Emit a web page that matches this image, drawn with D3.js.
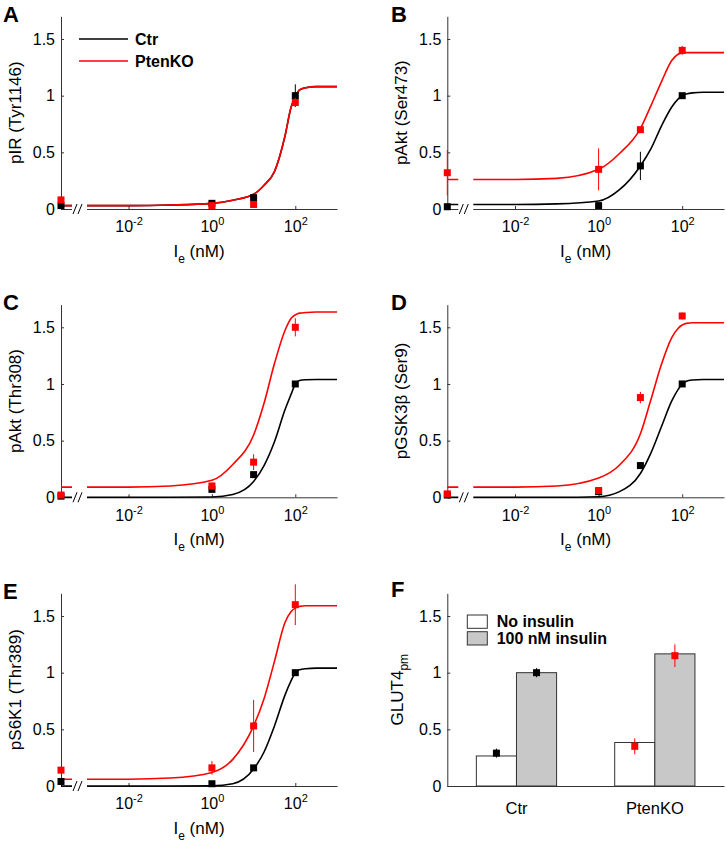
<!DOCTYPE html>
<html>
<head>
<meta charset="utf-8">
<script src="https://cdn.jsdelivr.net/npm/d3@7"></script>
<style>
  body { margin: 0; background: #fff; }
  svg { display: block; font-family: "Liberation Sans", Arial, Helvetica, sans-serif; }
</style>
</head>
<body>
<svg id="fig" width="727" height="843"></svg>
<script>
// Doses in nM (0 is drawn at the left end of the log axis)
const doses = [0, 1, 10, 100];
const fitLogX = [-3.62, -2, -1, 0, 0.5, 1, 1.25, 1.5, 1.75, 1.9, 2, 2.1, 2.25, 2.5, 3];

// A: pIR (Tyr1146)
const aCtr = [0.03, 0.05, 0.10, 1.00];
const aCtrErr = [0.01, 0.01, 0.02, 0.10];
const aKo = [0.08, 0.03, 0.04, 0.94];
const aKoErr = [0.03, 0.01, 0.02, 0.04];
const aCtrFit = [0.03, 0.03, 0.035, 0.05, 0.078, 0.13, 0.21, 0.33, 0.64, 0.90, 0.99, 1.05, 1.07, 1.08, 1.08];
const aKoFit = [0.03, 0.03, 0.035, 0.05, 0.078, 0.13, 0.21, 0.33, 0.64, 0.90, 0.99, 1.05, 1.07, 1.08, 1.08];

// B: pAkt (Ser473)
const bCtr = [0.02, 0.03, 0.38, 1.00];
const bCtrErr = [0.01, 0.01, 0.125, 0.01];
const bKo = [0.32, 0.35, 0.70, 1.40];
const bKoErr = [0.20, 0.185, 0.02, 0.04];
const bCtrFit = [0.04, 0.04, 0.045, 0.07, 0.17, 0.38, 0.53, 0.73, 0.90, 0.97, 1.0, 1.015, 1.025, 1.03, 1.03];
const bKoFit = [0.26, 0.26, 0.27, 0.35, 0.49, 0.71, 0.91, 1.12, 1.31, 1.365, 1.378, 1.38, 1.38, 1.38, 1.38];

// C: pAkt (Thr308)
const cCtr = [0.01, 0.07, 0.20, 1.00];
const cCtrErr = [0.01, 0.01, 0.02, 0.01];
const cKo = [0.02, 0.10, 0.31, 1.50];
const cKoErr = [0.01, 0.03, 0.07, 0.08];
const cCtrFit = [0, 0, 0, 0.003, 0.025, 0.14, 0.28, 0.49, 0.77, 0.91, 1.0, 1.03, 1.037, 1.04, 1.04];
const cKoFit = [0.09, 0.09, 0.10, 0.15, 0.29, 0.55, 0.83, 1.18, 1.47, 1.58, 1.61, 1.625, 1.63, 1.635, 1.635];

// D: pGSK3b (Ser9)
const dCtr = [0.02, 0.05, 0.28, 1.00];
const dCtrErr = [0.01, 0.01, 0.03, 0.01];
const dKo = [0.03, 0.06, 0.88, 1.60];
const dKoErr = [0.01, 0.01, 0.05, 0.03];
const dCtrFit = [0, 0, 0, 0.005, 0.05, 0.21, 0.39, 0.62, 0.85, 0.95, 1.0, 1.025, 1.035, 1.04, 1.04];
const dKoFit = [0.09, 0.09, 0.10, 0.17, 0.285, 0.56, 0.86, 1.17, 1.41, 1.49, 1.52, 1.535, 1.54, 1.54, 1.54];

// E: pS6K1 (Thr389)
const eCtr = [0.04, 0.02, 0.16, 1.00];
const eCtrErr = [0.01, 0.01, 0.02, 0.01];
const eKo = [0.14, 0.16, 0.53, 1.60];
const eKoErr = [0.02, 0.06, 0.23, 0.18];
const eCtrFit = [0, 0, 0, 0.002, 0.02, 0.15, 0.30, 0.53, 0.80, 0.93, 1.0, 1.025, 1.035, 1.04, 1.04];
const eKoFit = [0.06, 0.06, 0.07, 0.12, 0.235, 0.53, 0.77, 1.10, 1.44, 1.54, 1.57, 1.585, 1.59, 1.59, 1.59];

// F: GLUT4 at plasma membrane
const glutGroups = ["Ctr", "PtenKO"];
const glutBarNoIns = [0.265, 0.384];
const glutBarIns = [1.0, 1.166];
const glutDataNoIns = [0.29, 0.35];
const glutErrNoIns = [0.04, 0.07];
const glutDataIns = [1.0, 1.15];
const glutErrIns = [0.04, 0.10];

const yTicks = [0, 0.5, 1, 1.5];
const xTicks = [1e-2, 1, 1e2];

const RED = "#ff0000";
const AXIS = "#333";
const svg = d3.select("#fig");

// panel frames
const cols = [[61, 337], [447.3, 724]];
const rows = [209, 497.3, 786];
const unit = 113.33;

const panels = [
  { letter: "A", label: "pIR (Tyr1146)", ctr: aCtr, ctrErr: aCtrErr, ko: aKo, koErr: aKoErr, ctrFit: aCtrFit, koFit: aKoFit, c: 0, r: 0, legend: true },
  { letter: "B", label: "pAkt (Ser473)", ctr: bCtr, ctrErr: bCtrErr, ko: bKo, koErr: bKoErr, ctrFit: bCtrFit, koFit: bKoFit, c: 1, r: 0 },
  { letter: "C", label: "pAkt (Thr308)", ctr: cCtr, ctrErr: cCtrErr, ko: cKo, koErr: cKoErr, ctrFit: cCtrFit, koFit: cKoFit, c: 0, r: 1 },
  { letter: "D", label: "pGSK3\u03B2 (Ser9)", ctr: dCtr, ctrErr: dCtrErr, ko: dKo, koErr: dKoErr, ctrFit: dCtrFit, koFit: dKoFit, c: 1, r: 1 },
  { letter: "E", label: "pS6K1 (Thr389)", ctr: eCtr, ctrErr: eCtrErr, ko: eKo, koErr: eKoErr, ctrFit: eCtrFit, koFit: eKoFit, c: 0, r: 2 }
];

const yScaleFor = (y0) => d3.scaleLinear().domain([0, 1.7]).range([y0, y0 - 1.7 * unit]);

function drawYAxis(g, y, x0) {
  const ax = g.append("g")
    .attr("transform", `translate(${x0},0)`)
    .call(d3.axisLeft(y).tickValues(yTicks).tickSizeInner(-3).tickSizeOuter(0).tickPadding(6).tickFormat(d3.format("")));
  ax.select(".domain").attr("stroke", AXIS);
  ax.selectAll(".tick line").attr("stroke", AXIS);
  ax.selectAll(".tick text").attr("font-size", 16).attr("fill", "#000").attr("font-family", null);
}

function drawLetter(x, y, t) {
  svg.append("text").attr("x", x).attr("y", y)
    .attr("font-size", 22).attr("font-weight", "bold").text(t);
}

function drawYLabel(cx, cy, parts) {
  const t = svg.append("text")
    .attr("transform", `translate(${cx},${cy}) rotate(-90)`)
    .attr("text-anchor", "middle").attr("dy", "0.35em").attr("font-size", 17);
  t.append("tspan").text(parts[0]);
  if (parts[1]) t.append("tspan").attr("dy", 5).attr("font-size", 12).text(parts[1]);
}

function dosePanel(p) {
  const [x0, x1] = cols[p.c];
  const y0 = rows[p.r];
  const g = svg.append("g");
  const x = d3.scaleLog().domain([Math.pow(10, -3.62), 1000]).range([x0, x1]);
  const y = yScaleFor(y0);
  const xPos = d => x(d === 0 ? x.domain()[0] : d);

  // x axis with 10^n labels
  const xa = g.append("g")
    .attr("transform", `translate(0,${y0})`)
    .call(d3.axisBottom(x).tickValues(xTicks).tickSizeInner(-3).tickSizeOuter(0).tickPadding(12));
  xa.select(".domain").attr("stroke", AXIS);
  xa.selectAll(".tick line").attr("stroke", AXIS);
  xa.selectAll(".tick text")
    .attr("font-size", 16).attr("fill", "#000").attr("font-family", null)
    .text(null)
    .each(function (d) {
      const t = d3.select(this);
      t.append("tspan").text("10");
      t.append("tspan").attr("dy", -7).attr("font-size", 11).text(String(Math.round(Math.log10(d))));
    });
  drawYAxis(g, y, x0);

  // fitted curves
  const line = d3.line()
    .x((v, i) => x(Math.pow(10, fitLogX[i])))
    .y(v => y(v))
    .curve(d3.curveMonotoneX);
  g.append("path").attr("d", line(p.ctrFit)).attr("fill", "none").attr("stroke", "#000").attr("stroke-width", 1.6);
  g.append("path").attr("d", line(p.koFit)).attr("fill", "none").attr("stroke", RED).attr("stroke-width", 1.6);

  // axis break
  g.append("rect").attr("x", x0 + 11).attr("width", 15)
    .attr("y", y0 - 1.7 * unit).attr("height", 1.7 * unit + 2).attr("fill", "#fff");
  [12, 17].forEach(o => {
    g.append("line")
      .attr("x1", x0 + o).attr("y1", y0 + 5)
      .attr("x2", x0 + o + 4).attr("y2", y0 - 5)
      .attr("stroke", "#000").attr("stroke-width", 1);
  });

  // data with error bars
  [[p.ctr, p.ctrErr, "#000"], [p.ko, p.koErr, RED]].forEach(([vals, errs, col]) => {
    g.selectAll(null).data(doses).enter().append("line")
      .attr("x1", d => xPos(d)).attr("x2", d => xPos(d))
      .attr("y1", (d, i) => y(vals[i] - errs[i])).attr("y2", (d, i) => y(vals[i] + errs[i]))
      .attr("stroke", col).attr("stroke-width", 1);
    g.selectAll(null).data(doses).enter().append("rect")
      .attr("x", d => xPos(d) - 3.5).attr("y", (d, i) => y(vals[i]) - 3.5)
      .attr("width", 7).attr("height", 7).attr("fill", col);
  });

  // axis labels
  const xl = svg.append("text")
    .attr("x", (x0 + x1) / 2).attr("y", y0 + 47.5)
    .attr("text-anchor", "middle").attr("font-size", 17);
  xl.append("tspan").text("I");
  xl.append("tspan").attr("dy", 6).attr("font-size", 12).text("e");
  xl.append("tspan").attr("dy", -6).text(" (nM)");
  drawYLabel(x0 - 46, y0 - 0.85 * unit, [p.label]);

  drawLetter(p.c === 0 ? 3 : 391, y0 - 187.5, p.letter);

  if (p.legend) {
    const items = [["Ctr", "#000"], ["PtenKO", RED]];
    items.forEach(([name, col], i) => {
      const ly = 39 + i * 22;
      svg.append("line").attr("x1", 79).attr("x2", 128).attr("y1", ly).attr("y2", ly)
        .attr("stroke", col).attr("stroke-width", 1.6);
      svg.append("text").attr("x", 135).attr("y", ly + 6)
        .attr("font-size", 16).attr("font-weight", "bold").text(name);
    });
  }
}

panels.forEach(dosePanel);

// Panel F: bar chart
(function () {
  const [x0, x1] = cols[1];
  const y0 = rows[2];
  const g = svg.append("g");
  const y = yScaleFor(y0);
  const xb = d3.scaleBand().domain(glutGroups).range([x0, x1]).paddingInner(0.42).paddingOuter(0.21);
  const xs = d3.scaleBand().domain(["none", "ins"]).range([0, xb.bandwidth()]);

  const xa = g.append("g").attr("transform", `translate(0,${y0})`)
    .call(d3.axisBottom(xb).tickSizeInner(0).tickSizeOuter(0).tickPadding(16));
  xa.select(".domain").attr("stroke", AXIS);
  xa.selectAll(".tick text").attr("font-size", 16.5).attr("fill", "#000").attr("font-family", null);
  drawYAxis(g, y, x0);

  const bars = [["none", glutBarNoIns, "#fff"], ["ins", glutBarIns, "#c8c8c8"]];
  bars.forEach(([key, vals, fill]) => {
    g.selectAll(null).data(glutGroups).enter().append("rect")
      .attr("x", d => xb(d) + xs(key)).attr("width", xs.bandwidth())
      .attr("y", (d, i) => y(vals[i])).attr("height", (d, i) => y0 - y(vals[i]))
      .attr("fill", fill).attr("stroke", "#333").attr("stroke-width", 1);
  });

  const pts = [["none", glutDataNoIns, glutErrNoIns], ["ins", glutDataIns, glutErrIns]];
  pts.forEach(([key, vals, errs]) => {
    glutGroups.forEach((grp, i) => {
      const cx = xb(grp) + xs(key) + xs.bandwidth() / 2;
      const col = i === 0 ? "#000" : RED;
      g.append("line").attr("x1", cx).attr("x2", cx)
        .attr("y1", y(vals[i] - errs[i])).attr("y2", y(vals[i] + errs[i]))
        .attr("stroke", col).attr("stroke-width", 1);
      g.append("rect").attr("x", cx - 3.5).attr("y", y(vals[i]) - 3.5)
        .attr("width", 7).attr("height", 7).attr("fill", col);
    });
  });

  // legend
  const legend = [["No insulin", "#fff"], ["100 nM insulin", "#c8c8c8"]];
  legend.forEach(([name, fill], i) => {
    const ly = 615 + i * 16.7;
    svg.append("rect").attr("x", 467.3).attr("y", ly).attr("width", 20).attr("height", 13.3)
      .attr("fill", fill).attr("stroke", "#333");
    svg.append("text").attr("x", 496.7).attr("y", ly + 12)
      .attr("font-size", 16).attr("font-weight", "bold").text(name);
  });

  drawYLabel(x0 - 50, y0 - 0.85 * unit, ["GLUT4", "pm"]);
  drawLetter(391, y0 - 189, "F");
})();
</script>
</body>
</html>
